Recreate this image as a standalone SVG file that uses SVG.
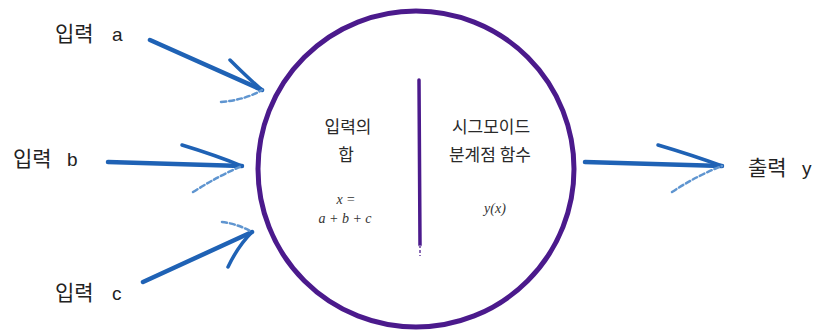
<svg xmlns="http://www.w3.org/2000/svg" width="819" height="335" viewBox="0 0 819 335">
<style>
.lbl{font-family:"Noto Sans CJK KR","Noto Sans",sans-serif;font-size:21px;fill:#222}
.lat{font-family:"Liberation Sans",Arial,sans-serif;font-size:19px;fill:#222}
.in{font-family:"Noto Sans CJK KR","Noto Sans",sans-serif;font-size:17px;fill:#2a2a2a;text-anchor:middle}
.math{font-family:"Liberation Serif",serif;font-style:italic;font-size:14px;fill:#333;text-anchor:middle}
.arr{fill:none;stroke:#1f62b5;stroke-width:4.5;stroke-linecap:round;stroke-linejoin:round}
.barb{fill:none;stroke:#1f62b5;stroke-width:3.5;stroke-linecap:round;stroke-linejoin:round}
.barb2{fill:none;stroke:#5f95d0;stroke-width:2.5;stroke-linecap:round;stroke-dasharray:5 3}
</style>
<rect width="819" height="335" fill="#fff"/>
<g id="neuron">
<ellipse cx="416" cy="169" rx="158" ry="158" fill="none" stroke="#4b1a8c" stroke-width="5"/>
<line x1="419" y1="80" x2="420" y2="245" stroke="#4b1a8c" stroke-width="3.5" stroke-linecap="round"/>
<line x1="420" y1="245" x2="420" y2="256" stroke="#8a6bb5" stroke-width="2" stroke-dasharray="3 2"/>
<text class="in" x="348" y="133">입력의</text>
<text class="in" x="346" y="161">합</text>
<text class="math" x="346" y="204">x =</text>
<text class="math" x="345" y="223">a + b + c</text>
<text class="in" x="491" y="133">시그모이드</text>
<text class="in" x="490" y="161">분계점 함수</text>
<text class="math" x="495" y="213">y(x)</text>
</g>
<g id="input-a"><text class="lbl" x="55" y="41">입력<tspan class="lat" x="112">a</tspan></text></g>
<g id="input-b"><text class="lbl" x="13" y="166">입력<tspan class="lat" x="67">b</tspan></text></g>
<g id="input-c"><text class="lbl" x="55" y="300">입력<tspan class="lat" x="112">c</tspan></text></g>
<g id="output-y"><text class="lbl" x="748" y="175">출력<tspan class="lat" x="802">y</tspan></text></g>
<g id="connectors">
<path class="arr" d="M150 40 L262 90"/>
<path class="barb" d="M230 60 Q248 78 262 90"/>
<path class="barb2" d="M221 102 Q245 100 262 90"/>
<path class="arr" d="M108 162 L242 166"/>
<path class="barb" d="M182 145 Q215 155 242 166"/>
<path class="barb2" d="M193 192 Q220 175 242 166"/>
<path class="arr" d="M143 282 L252 232"/>
<path class="barb2" d="M222 222 Q238 224 252 232"/>
<path class="barb" d="M228 267 Q238 246 252 232"/>
<path class="arr" d="M585 162 L722 166"/>
<path class="barb" d="M658 145 Q692 155 722 166"/>
<path class="barb2" d="M672 192 Q698 175 722 166"/>
</g>
</svg>
